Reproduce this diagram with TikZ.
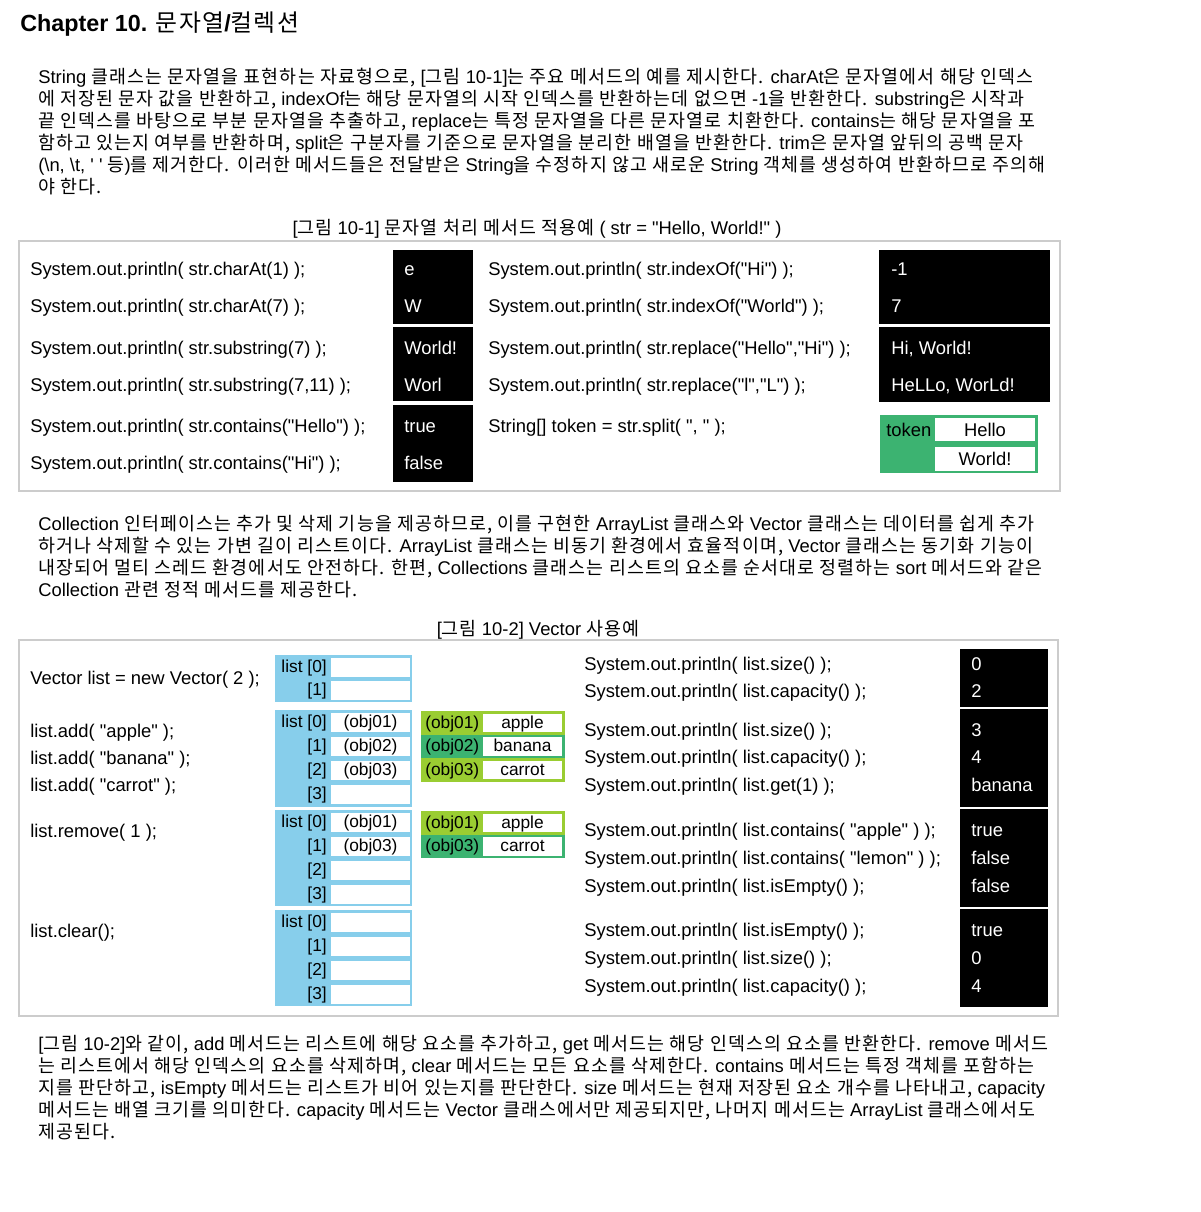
\documentclass[tikz,border=0pt]{standalone}
\usepackage{fontspec}
\newfontfamily\ar{Liberation Sans}
\newfontfamily\krf[Scale=1.0,LetterSpace=6]{Noto Sans CJK KR}
\newfontfamily\krt[Scale=1.02,LetterSpace=5.5]{Noto Sans CJK KR}
\newcommand\K[1]{{\krf\mdseries #1}}
\newcommand\KT[1]{{\krt\mdseries #1}}
\newcommand\fs{\fontsize{13.8pt}{16.5pt}\selectfont}
\newcommand\fsm{\fontsize{13pt}{15pt}\selectfont}
\definecolor{skyb}{HTML}{87CEEB}
\definecolor{ygreen}{HTML}{9ACD32}
\definecolor{msgreen}{HTML}{3CB371}
\definecolor{bordergray}{HTML}{CCCCCC}
\tikzset{
  txt/.style={anchor=base west, inner sep=0pt, font=\ar\fs},
  wtxt/.style={txt, text=white},
  ctxt/.style={anchor=base, inner sep=0pt, font=\ar\fs},
  lbl/.style={inner sep=0pt, font=\ar\fsm},
  frame/.style={draw=bordergray, line width=1.5pt},
}
\newcommand\bluerow[4]{%
  \fill[white] (331,#2-9.5) rectangle (410,#2+9.5);
  \node[lbl, anchor=base east] (#1l) at (327,#2+5.5) {#3};
  \node[lbl, anchor=base] (#1c) at (370.5,#2+5.5) {#4};
}
\newcommand\greenrow[5]{%
  \fill[#3] (421,#2) rectangle (565,#2+23.5);
  \fill[white] (483,#2+2.5) rectangle (562,#2+21);
  \node[lbl, anchor=base west] (#1l) at (425,#2+17) {#4};
  \node[lbl, anchor=base] (#1c) at (522.5,#2+17) {#5};
}
\begin{document}
\begin{tikzpicture}[x=0.75pt, y=-0.75pt]
\useasboundingbox (0,0) rectangle (1200,1212);
\fill[white] (0,0) rectangle (1200,1212);

% title
\node[anchor=base west, inner sep=0pt, font=\ar\bfseries\fontsize{17.5pt}{20pt}\selectfont] (title) at (20,32) {Chapter 10. \KT{문자열}/\KT{컬렉션}};

% paragraph 1
\node[txt] (p1a) at (38,83.5) {String \K{클래스는 문자열을 표현하는 자료형으로,} [\K{그림} 10-1]\K{는 주요 메서드의 예를 제시한다.} charAt\K{은 문자열에서 해당 인덱스}};
\node[txt] (p1b) at (38,105.5) {\K{에 저장된 문자 값을 반환하고,} indexOf\K{는 해당 문자열의 시작 인덱스를 반환하는데 없으면} -1\K{을 반환한다.} substring\K{은 시작과}};
\node[txt] (p1c) at (38,127.5) {\K{끝 인덱스를 바탕으로 부분 문자열을 추출하고,} replace\K{는 특정 문자열을 다른 문자열로 치환한다.} contains\K{는 해당 문자열을 포}};
\node[txt] (p1d) at (38,149.5) {\K{함하고 있는지 여부를 반환하며,} split\K{은 구분자를 기준으로 문자열을 분리한 배열을 반환한다.} trim\K{은 문자열 앞뒤의 공백 문자}};
\node[txt] (p1e) at (38,171.5) {(\textbackslash n, \textbackslash t, ' ' \K{등})\K{를 제거한다. 이러한 메서드들은 전달받은} String\K{을 수정하지 않고 새로운} String \K{객체를 생성하여 반환하므로 주의해}};
\node[txt] (p1f) at (38,193.5) {\K{야 한다.}};

% caption 1
\node[ctxt] (cap1) at (537,234.5) {[\K{그림} 10-1] \K{문자열 처리 메서드 적용예} ( str = "Hello, World!" )};

% box 1
\draw[frame] (19,241) rectangle (1060,491);
\fill[black] (393,250) rectangle (473,324);
\fill[black] (393,327) rectangle (473,401);
\fill[black] (393,405) rectangle (473,482);
\fill[black] (879,250) rectangle (1050,324);
\fill[black] (879,327) rectangle (1050,402);

\node[txt] (c1) at (30,275.5) {System.out.println( str.charAt(1) );};
\node[txt] (c2) at (30,312.5) {System.out.println( str.charAt(7) );};
\node[txt] (c3) at (30,354.5) {System.out.println( str.substring(7) );};
\node[txt] (c4) at (30,391.5) {System.out.println( str.substring(7,11) );};
\node[txt] (c5) at (30,432.5) {System.out.println( str.contains("Hello") );};
\node[txt] (c6) at (30,469.5) {System.out.println( str.contains("Hi") );};

\node[wtxt] (r1) at (404,275.5) {e};
\node[wtxt] (r2) at (404,312.5) {W};
\node[wtxt] (r3) at (404,354.5) {World!};
\node[wtxt] (r4) at (404,391.5) {Worl};
\node[wtxt] (r5) at (404,432.5) {true};
\node[wtxt] (r6) at (404,469.5) {false};

\node[txt] (d1) at (488,275.5) {System.out.println( str.indexOf("Hi") );};
\node[txt] (d2) at (488,312.5) {System.out.println( str.indexOf("World") );};
\node[txt] (d3) at (488,354.5) {System.out.println( str.replace("Hello","Hi") );};
\node[txt] (d4) at (488,391.5) {System.out.println( str.replace("l","L") );};
\node[txt] (d5) at (488,432.5) {String[] token = str.split( ", " );};

\node[wtxt] (s1) at (891,275.5) {-1};
\node[wtxt] (s2) at (891,312.5) {7};
\node[wtxt] (s3) at (891,354.5) {Hi, World!};
\node[wtxt] (s4) at (891,391.5) {HeLLo, WorLd!};

\fill[msgreen] (880,415) rectangle (1038,473);
\fill[white] (935,418) rectangle (1035,441);
\fill[white] (935,447) rectangle (1035,471);
\node[txt] (tok) at (886,436) {token};
\node[ctxt] (tok1) at (985,436) {Hello};
\node[ctxt] (tok2) at (985,465) {World!};

% paragraph 2
\node[txt] (p2a) at (38,530) {Collection \K{인터페이스는 추가 및 삭제 기능을 제공하므로, 이를 구현한} ArrayList \K{클래스와} Vector \K{클래스는 데이터를 쉽게 추가}};
\node[txt] (p2b) at (38,552) {\K{하거나 삭제할 수 있는 가변 길이 리스트이다.} ArrayList \K{클래스는 비동기 환경에서 효율적이며,} Vector \K{클래스는 동기화 기능이}};
\node[txt] (p2c) at (38,574) {\K{내장되어 멀티 스레드 환경에서도 안전하다. 한편,} Collections \K{클래스는 리스트의 요소를 순서대로 정렬하는} sort \K{메서드와 같은}};
\node[txt] (p2d) at (38,596) {Collection \K{관련 정적 메서드를 제공한다.}};

% caption 2
\node[ctxt] (cap2) at (538,635.5) {[\K{그림} 10-2] Vector \K{사용예}};

% box 2
\draw[frame] (19,640) rectangle (1058,1016);

\node[txt] (v1) at (30,684) {Vector list = new Vector( 2 );};
\node[txt] (v2) at (30,737) {list.add( "apple" );};
\node[txt] (v3) at (30,764) {list.add( "banana" );};
\node[txt] (v4) at (30,791) {list.add( "carrot" );};
\node[txt] (v5) at (30,837) {list.remove( 1 );};
\node[txt] (v6) at (30,937) {list.clear();};

% blue list blocks
\fill[skyb] (275,655) rectangle (412,702);
\bluerow{ba0}{667}{list [0]}{}
\bluerow{ba1}{690}{[1]}{}
\fill[skyb] (275,710) rectangle (412,807);
\bluerow{bb0}{722}{list [0]}{(obj01)}
\bluerow{bb1}{746}{[1]}{(obj02)}
\bluerow{bb2}{770}{[2]}{(obj03)}
\bluerow{bb3}{794}{[3]}{}
\fill[skyb] (275,810) rectangle (412,906);
\bluerow{bc0}{822}{list [0]}{(obj01)}
\bluerow{bc1}{846}{[1]}{(obj03)}
\bluerow{bc2}{870}{[2]}{}
\bluerow{bc3}{894}{[3]}{}
\fill[skyb] (275,910) rectangle (412,1006);
\bluerow{bd0}{922}{list [0]}{}
\bluerow{bd1}{946}{[1]}{}
\bluerow{bd2}{970}{[2]}{}
\bluerow{bd3}{994}{[3]}{}

% green object blocks
\greenrow{ga}{711}{ygreen}{(obj01)}{apple}
\greenrow{gb}{734.5}{msgreen}{(obj02)}{banana}
\greenrow{gc}{758}{ygreen}{(obj03)}{carrot}
\greenrow{gd}{811}{ygreen}{(obj01)}{apple}
\greenrow{ge}{834.5}{msgreen}{(obj03)}{carrot}

% right code
\node[txt] (w1) at (584,670) {System.out.println( list.size() );};
\node[txt] (w2) at (584,697) {System.out.println( list.capacity() );};
\node[txt] (w3) at (584,736) {System.out.println( list.size() );};
\node[txt] (w4) at (584,763) {System.out.println( list.capacity() );};
\node[txt] (w5) at (584,791) {System.out.println( list.get(1) );};
\node[txt] (w6) at (584,836) {System.out.println( list.contains( "apple" ) );};
\node[txt] (w7) at (584,864) {System.out.println( list.contains( "lemon" ) );};
\node[txt] (w8) at (584,892) {System.out.println( list.isEmpty() );};
\node[txt] (w9) at (584,936) {System.out.println( list.isEmpty() );};
\node[txt] (w10) at (584,964) {System.out.println( list.size() );};
\node[txt] (w11) at (584,992) {System.out.println( list.capacity() );};

\fill[black] (960,649) rectangle (1048,707);
\fill[black] (960,709) rectangle (1048,807);
\fill[black] (960,809) rectangle (1048,907);
\fill[black] (960,909) rectangle (1048,1007);
\node[wtxt] (o1) at (971,670) {0};
\node[wtxt] (o2) at (971,697) {2};
\node[wtxt] (o3) at (971,736) {3};
\node[wtxt] (o4) at (971,763) {4};
\node[wtxt] (o5) at (971,791) {banana};
\node[wtxt] (o6) at (971,836) {true};
\node[wtxt] (o7) at (971,864) {false};
\node[wtxt] (o8) at (971,892) {false};
\node[wtxt] (o9) at (971,936) {true};
\node[wtxt] (o10) at (971,964) {0};
\node[wtxt] (o11) at (971,992) {4};

% paragraph 3
\node[txt] (p3a) at (38,1050.5) {[\K{그림} 10-2]\K{와 같이,} add \K{메서드는 리스트에 해당 요소를 추가하고,} get \K{메서드는 해당 인덱스의 요소를 반환한다.} remove \K{메서드}};
\node[txt] (p3b) at (38,1072.5) {\K{는 리스트에서 해당 인덱스의 요소를 삭제하며,} clear \K{메서드는 모든 요소를 삭제한다.} contains \K{메서드는 특정 객체를 포함하는}};
\node[txt] (p3c) at (38,1094.5) {\K{지를 판단하고,} isEmpty \K{메서드는 리스트가 비어 있는지를 판단한다.} size \K{메서드는 현재 저장된 요소 개수를 나타내고,} capacity};
\node[txt] (p3d) at (38,1116.5) {\K{메서드는 배열 크기를 의미한다.} capacity \K{메서드는} Vector \K{클래스에서만 제공되지만, 나머지 메서드는} ArrayList \K{클래스에서도}};
\node[txt] (p3e) at (38,1138.5) {\K{제공된다.}};
\end{tikzpicture}
\end{document}
